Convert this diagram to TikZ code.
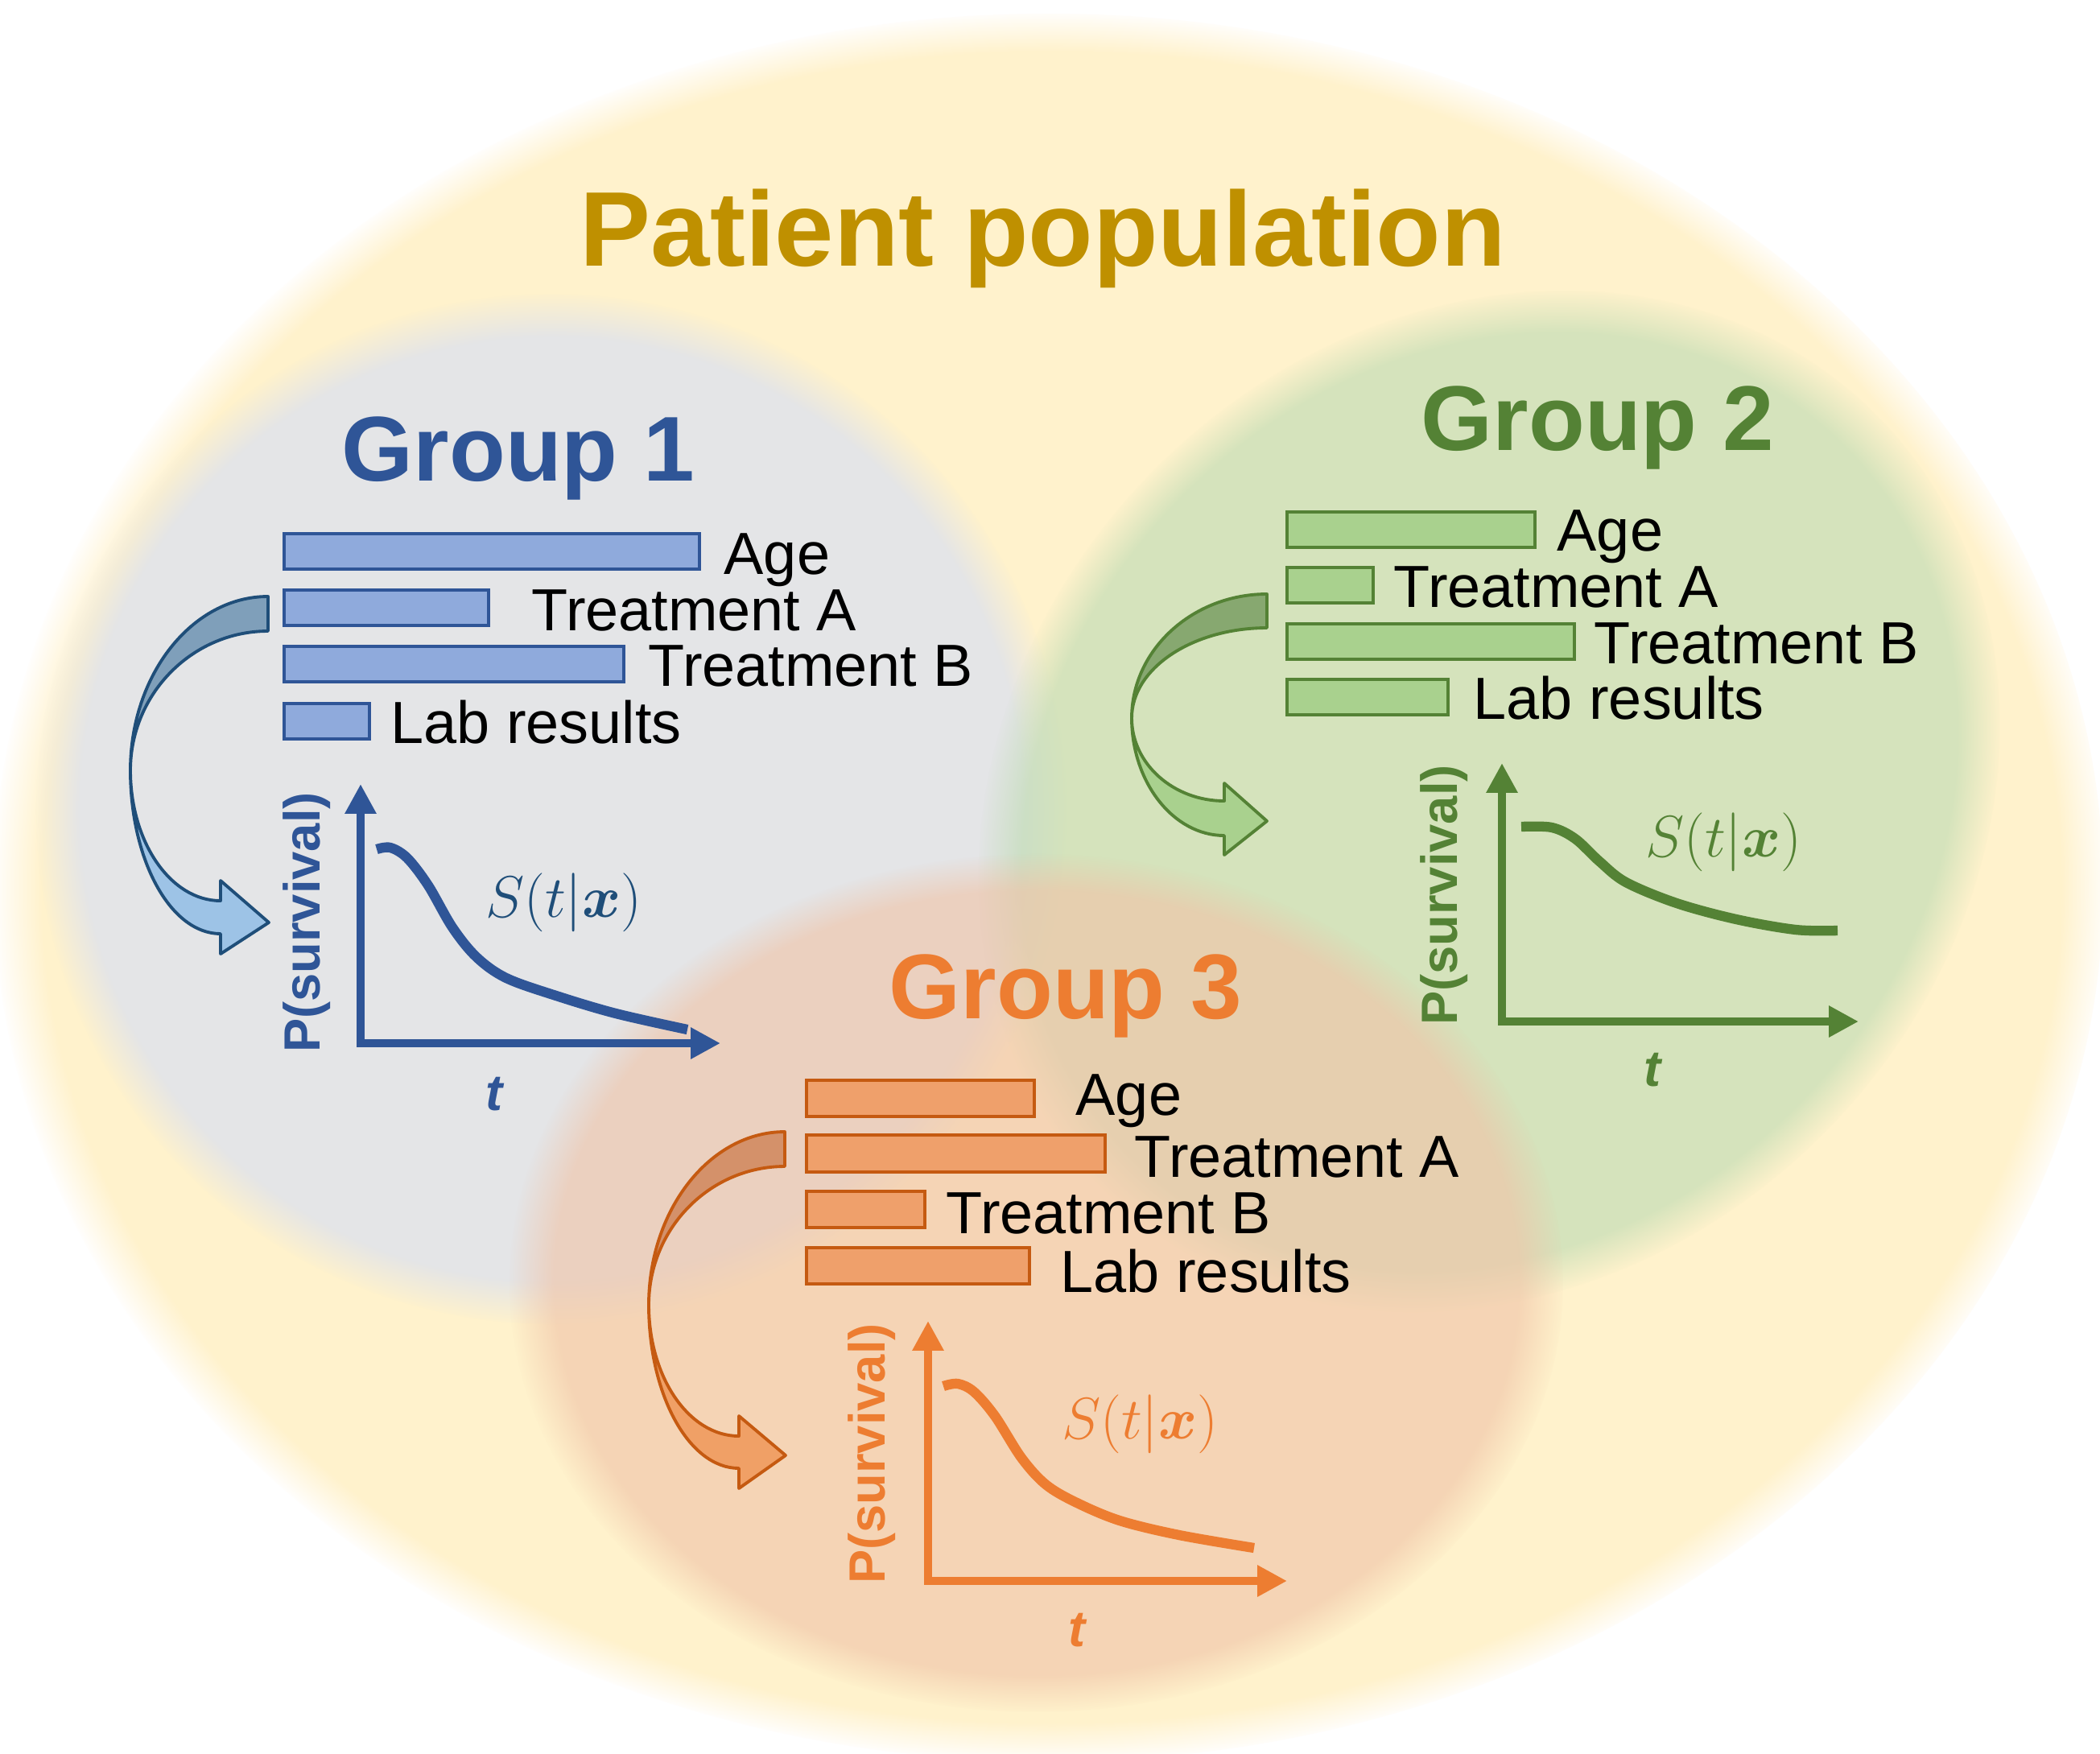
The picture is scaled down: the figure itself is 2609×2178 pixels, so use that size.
\documentclass[tikz,border=0pt]{standalone}
\usepackage[no-math]{fontspec}
\usepackage{bm}
\newfontfamily\arialf{Liberation Sans}
\usetikzlibrary{arrows.meta,fadings}
\pgfdeclareradialshading{softshadeA}{\pgfpointorigin}{color(0bp)=(pgftransparent!0); color(22.8bp)=(pgftransparent!0); color(25bp)=(pgftransparent!100); color(50bp)=(pgftransparent!100)}
\pgfdeclarefading{softA}{\pgfuseshading{softshadeA}}
\pgfdeclareradialshading{softshadeB}{\pgfpointorigin}{color(0bp)=(pgftransparent!0); color(23.8bp)=(pgftransparent!0); color(25bp)=(pgftransparent!100); color(50bp)=(pgftransparent!100)}
\pgfdeclarefading{softB}{\pgfuseshading{softshadeB}}

\definecolor{popbg}{HTML}{FFF2CC}
\definecolor{grpA}{HTML}{E4E5E7}
\definecolor{grpB}{RGB}{192,220,180}
\definecolor{grpC}{RGB}{240,196,168}
\definecolor{popgold}{HTML}{BF9000}
\definecolor{blueA}{HTML}{2F5597}
\definecolor{blueS}{HTML}{1F4E79}
\definecolor{blueBar}{HTML}{8FAADC}
\definecolor{blueDark}{HTML}{7F9FBA}
\definecolor{blueLight}{HTML}{9DC3E6}
\definecolor{blueEdge}{HTML}{1F4E79}
\definecolor{greenA}{HTML}{548235}
\definecolor{greenBar}{HTML}{A9D18E}
\definecolor{greenDark}{HTML}{87A870}
\definecolor{greenLight}{HTML}{A9D18E}
\definecolor{orangeA}{HTML}{ED7D31}
\definecolor{orangeBar}{HTML}{EFA06B}
\definecolor{orangeEdge}{HTML}{C55A11}
\definecolor{orangeDark}{HTML}{D4916A}
\definecolor{orangeLight}{HTML}{F0A066}

\tikzset{
  poptitle/.style={font=\arialf\bfseries\fontsize{37.5}{40}\selectfont, text=popgold, inner sep=0, anchor=base},
  grouptitle/.style={font=\arialf\bfseries\fontsize{32.5}{36}\selectfont, inner sep=0, anchor=base},
  lbl/.style={font=\arialf\fontsize{21}{24}\selectfont, text=black, inner sep=0, anchor=base west},
  barbox/.style={line width=1.1pt},
  axisline/.style={line width=3.1pt, line join=miter, {Triangle[width=10.5pt,length=10.5pt]}-{Triangle[width=10.5pt,length=10.5pt]}},
  survline/.style={line width=3.5pt},
  ylab/.style={font=\arialf\bfseries\fontsize{18}{20}\selectfont, rotate=90, inner sep=0},
  tlab/.style={font=\arialf\bfseries\itshape\fontsize{18}{20}\selectfont, inner sep=0},
  slab/.style={font=\fontsize{21}{25}\selectfont, inner sep=0},
  ribbon/.style={line width=1.1pt, line join=round},
}

\begin{document}
\begin{tikzpicture}[x=0.01cm, y=-0.01cm]
\useasboundingbox (0,0) rectangle (2609,2178);
\fill[white] (0,0) rectangle (2609,2178);

% background regions
\fill[popbg, path fading=softB] (1306,1102) ellipse [x radius=1312, y radius=1086];
\fill[grpA, path fading=softA] (685,1005) circle [radius=640];
\fill[grpB, fill opacity=0.667, path fading=softA, transform canvas={rotate around={45:(1850,995)}}] (1850,995) ellipse [x radius=680, y radius=586];
\fill[grpC, fill opacity=0.63, path fading=softA] (1288,1594) ellipse [x radius=655, y radius=533];

% title
\node[poptitle] (pop) at (1296,330) {Patient population};

% ================= Group 1 =================
\node[grouptitle, text=blueA] (g1t) at (644,597) {Group 1};
\draw[barbox, draw=blueA, fill=blueBar] (353,663) rectangle (869,707);
\draw[barbox, draw=blueA, fill=blueBar] (353,733) rectangle (607,777);
\draw[barbox, draw=blueA, fill=blueBar] (353,803) rectangle (775,847);
\draw[barbox, draw=blueA, fill=blueBar] (353,874) rectangle (459,918);
\node[lbl] (g1age) at (899,713) {Age};
\node[lbl] (g1ta) at (660,783) {Treatment A};
\node[lbl] (g1tb) at (805,852) {Treatment B};
\node[lbl] (g1lab) at (485,923) {Lab results};
\filldraw[ribbon, draw=blueEdge, fill=blueDark] (333,741) .. controls (239,741) and (162,838) .. (162,957) .. controls (162,862) and (239,784) .. (333,784) -- cycle;
\filldraw[ribbon, draw=blueEdge, fill=blueLight] (162,957) .. controls (162,1069) and (212,1160) .. (274,1160) -- (274,1185) -- (334,1146) -- (274,1094) -- (274,1119) .. controls (212,1119) and (162,1046) .. (162,957) -- cycle;
\coordinate (g1y) at (448,974);
\coordinate (g1o) at (448,1296);
\coordinate (g1x) at (895,1296);
\draw[axisline, blueA] (g1y) -- (g1o) -- (g1x);
\draw[survline, blueA] plot[smooth, tension=0.55] coordinates {(468,1055) (485,1053) (506,1066) (532,1100) (562,1152) (592,1189) (629,1215) (691,1237) (765,1259) (854,1279)};
\node[slab, text=blueS] (g1s) at (700,1121) {$S(t|\bm{x})$};
\node[ylab, text=blueA] (g1p) at (381,1146) {P(survival)};
\node[tlab, text=blueA] (g1tt) at (614,1359) {t};

% ================= Group 2 =================
\node[grouptitle, text=greenA] (g2t) at (1985,559) {Group 2};
\draw[barbox, draw=greenA, fill=greenBar] (1599,636) rectangle (1907,680);
\draw[barbox, draw=greenA, fill=greenBar] (1599,705) rectangle (1706,749);
\draw[barbox, draw=greenA, fill=greenBar] (1599,775) rectangle (1956,819);
\draw[barbox, draw=greenA, fill=greenBar] (1599,844) rectangle (1799,888);
\node[lbl] (g2age) at (1934,684) {Age};
\node[lbl] (g2ta) at (1731,754) {Treatment A};
\node[lbl] (g2tb) at (1980,824) {Treatment B};
\node[lbl] (g2lab) at (1830,893) {Lab results};
\filldraw[ribbon, draw=greenA, fill=greenDark] (1574,738) .. controls (1482,738) and (1406,807) .. (1406,892) .. controls (1406,830) and (1482,780) .. (1574,780) -- cycle;
\filldraw[ribbon, draw=greenA, fill=greenLight] (1406,892) .. controls (1406,972) and (1458,1038) .. (1521,1038) -- (1521,1062) -- (1574,1020) -- (1521,973) -- (1521,995) .. controls (1458,995) and (1406,949) .. (1406,892) -- cycle;
\coordinate (g2y) at (1866,948);
\coordinate (g2o) at (1866,1269);
\coordinate (g2x) at (2309,1269);
\draw[axisline, greenA] (g2y) -- (g2o) -- (g2x);
\draw[survline, greenA] plot[smooth, tension=0.55] coordinates {(1890,1027) (1928,1028) (1957,1042) (1987,1070) (2020,1096) (2083,1122) (2157,1142) (2231,1155) (2283,1156)};
\node[slab, text=greenA] (g2s) at (2141,1046) {$S(t|\bm{x})$};
\node[ylab, text=greenA] (g2p) at (1794,1112) {P(survival)};
\node[tlab, text=greenA] (g2tt) at (2053,1329) {t};

% ================= Group 3 =================
\node[grouptitle, text=orangeA] (g3t) at (1324,1265) {Group 3};
\draw[barbox, draw=orangeEdge, fill=orangeBar] (1002,1342) rectangle (1285,1387);
\draw[barbox, draw=orangeEdge, fill=orangeBar] (1002,1410) rectangle (1373,1456);
\draw[barbox, draw=orangeEdge, fill=orangeBar] (1002,1480) rectangle (1149,1525);
\draw[barbox, draw=orangeEdge, fill=orangeBar] (1002,1550) rectangle (1279,1595);
\node[lbl] (g3age) at (1336,1385) {Age};
\node[lbl] (g3ta) at (1409,1462) {Treatment A};
\node[lbl] (g3tb) at (1175,1532) {Treatment B};
\node[lbl] (g3lab) at (1317,1605) {Lab results};
\filldraw[ribbon, draw=orangeEdge, fill=orangeDark] (975,1406) .. controls (882,1406) and (806,1503) .. (806,1621) .. controls (806,1526) and (882,1449) .. (975,1449) -- cycle;
\filldraw[ribbon, draw=orangeEdge, fill=orangeLight] (806,1621) .. controls (806,1733) and (856,1824) .. (918,1824) -- (918,1849) -- (976,1808) -- (918,1759) -- (918,1784) .. controls (856,1784) and (806,1711) .. (806,1621) -- cycle;
\coordinate (g3y) at (1153,1641);
\coordinate (g3o) at (1153,1964);
\coordinate (g3x) at (1599,1964);
\draw[axisline, orangeA] (g3y) -- (g3o) -- (g3x);
\draw[survline, orangeA] plot[smooth, tension=0.55] coordinates {(1172,1722) (1190,1719) (1210,1729) (1236,1759) (1269,1811) (1299,1844) (1336,1866) (1391,1889) (1465,1907) (1558,1923)};
\node[slab, text=orangeA] (g3s) at (1416,1769) {$S(t|\bm{x})$};
\node[ylab, text=orangeA] (g3p) at (1083,1806) {P(survival)};
\node[tlab, text=orangeA] (g3tt) at (1338,2025) {t};
\end{tikzpicture}
\end{document}
